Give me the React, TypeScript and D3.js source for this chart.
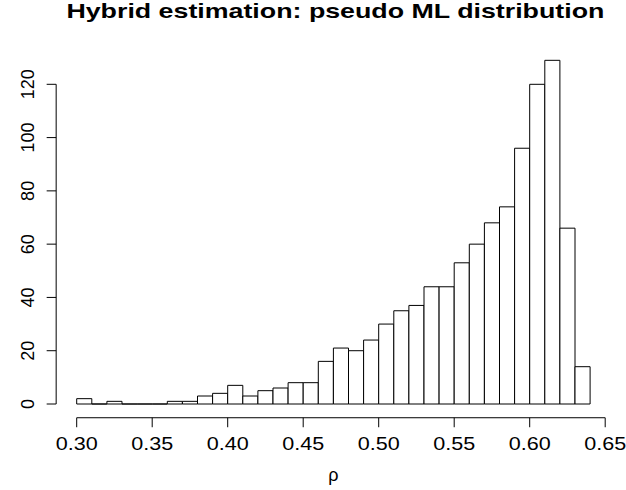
import React from "react";
import * as d3 from "d3";

const binStarts = [
  0.30, 0.31, 0.32, 0.33, 0.34, 0.35, 0.36, 0.37, 0.38, 0.39,
  0.40, 0.41, 0.42, 0.43, 0.44, 0.45, 0.46, 0.47, 0.48, 0.49,
  0.50, 0.51, 0.52, 0.53, 0.54, 0.55, 0.56, 0.57, 0.58, 0.59,
  0.60, 0.61, 0.62, 0.63,
];
const counts = [
  2, 0, 1, 0, 0, 0, 1, 1, 3, 4,
  7, 3, 5, 6, 8, 8, 16, 21, 20, 24,
  30, 35, 37, 44, 44, 53, 60, 68, 74, 96,
  120, 129, 66, 14,
];
const binWidth = 0.01;
const xTicks = [0.30, 0.35, 0.40, 0.45, 0.50, 0.55, 0.60, 0.65];
const yTicks = [0, 20, 40, 60, 80, 100, 120];
const title = "Hybrid estimation: pseudo ML distribution";
const xLabel = "ρ";

const W = 626;
const H = 490;
const FONT = "'Liberation Sans', Arial, Helvetica, sans-serif";

export default function App() {
  const x = d3.scaleLinear().domain([0.30, 0.65]).range([76.7, 605.2]);
  const y = d3.scaleLinear().domain([0, 120]).range([404, 84.3]);
  const plotLeft = x(0.30 - 0.04 * 0.34);
  const plotRight = x(0.64 + 0.04 * 0.34);
  const cx = (plotLeft + plotRight) / 2;
  const axisY = y(-0.04 * 129);
  const axisX = plotLeft;

  const barPath = (s: number, c: number) => {
    const x0 = x(s);
    const x1 = x(s + binWidth);
    const y0 = y(0);
    const y1 = y(c);
    return `M${x0},${y0}V${y1}H${x1}V${y0}Z`;
  };

  return (
    <svg
      width={W}
      height={H}
      style={{ position: "absolute", left: 0, top: 0, background: "#fff" }}
      fontFamily={FONT}
    >
      <rect x={0} y={0} width={W} height={H} fill="#fff" />
      <text
        x={cx + 2}
        y={18}
        textAnchor="middle"
        fontWeight="bold"
        fontSize={20.4}
        textLength={538}
        lengthAdjust="spacingAndGlyphs"
        fill="#000"
      >
        {title}
      </text>
      {binStarts.map((s, i) => (
        <path
          key={i}
          d={barPath(s, counts[i])}
          fill="#fff"
          stroke="#000"
          strokeWidth={1}
        />
      ))}
      {/* x axis */}
      <line
        x1={x(xTicks[0])}
        x2={x(xTicks[xTicks.length - 1])}
        y1={axisY}
        y2={axisY}
        stroke="#000"
      />
      {xTicks.map((t) => (
        <g key={t}>
          <line x1={x(t)} x2={x(t)} y1={axisY} y2={axisY + 9.5} stroke="#000" />
          <text
            x={x(t)}
            y={450}
            textAnchor="middle"
            fontSize={18}
            textLength={42}
            lengthAdjust="spacingAndGlyphs"
            fill="#000"
          >
            {t.toFixed(2)}
          </text>
        </g>
      ))}
      {/* y axis */}
      <line
        x1={axisX}
        x2={axisX}
        y1={y(yTicks[0])}
        y2={y(yTicks[yTicks.length - 1])}
        stroke="#000"
      />
      {yTicks.map((t) => (
        <g key={t}>
          <line x1={axisX - 9.5} x2={axisX} y1={y(t)} y2={y(t)} stroke="#000" />
          <text
            transform={`translate(33.5,${y(t)}) rotate(-90)`}
            textAnchor="middle"
            fontSize={18}
            fill="#000"
          >
            {t}
          </text>
        </g>
      ))}
      <text x={cx} y={481} textAnchor="middle" fontSize={18} fill="#000">
        {xLabel}
      </text>
    </svg>
  );
}
